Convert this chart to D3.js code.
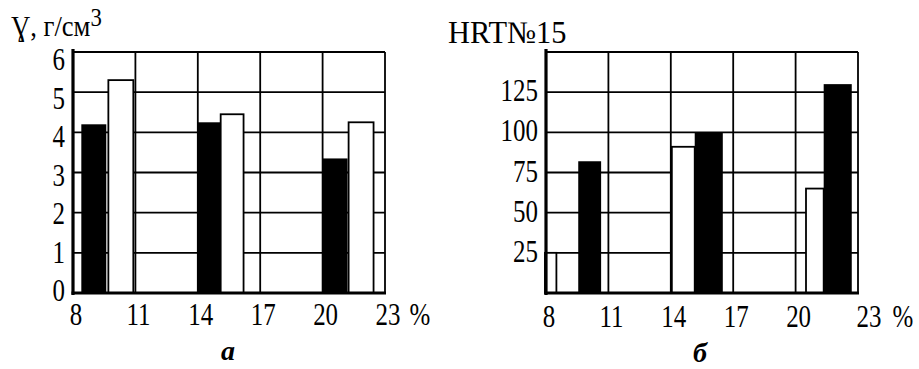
<!DOCTYPE html>
<html>
<head>
<meta charset="utf-8">
<script src="https://cdn.jsdelivr.net/npm/d3@7"></script>
<style>
  html, body { margin: 0; padding: 0; background: #fff; }
  svg { display: block; }
</style>
</head>
<body>
<svg id="chart" width="919" height="369"></svg>
<script>
// Concentration, % (x-axis)
const xTicks = [8, 11, 14, 17, 20, 23];

// Panel a: density, g/cm3
const densityTicks = [0, 1, 2, 3, 4, 5, 6];
const densityDark = [4.2, 4.25, 3.35];
const densityDarkFrom = [8.4, 14.0, 20.0];
const densityDarkTo = [9.6, 15.1, 21.2];
const densityLight = [5.3, 4.45, 4.25];
const densityLightFrom = [9.7, 15.1, 21.25];
const densityLightTo = [10.9, 16.2, 22.45];

// Panel б: hardness HRT№15
const hardTicks = [25, 50, 75, 100, 125];
const hardGrid = [25, 50, 75, 100, 125, 150];
const hardLight = [25, 91, 65];
const hardLightFrom = [7.95, 14.05, 20.5];
const hardLightTo = [8.5, 15.15, 21.35];
const hardDark = [82, 100, 130];
const hardDarkFrom = [9.55, 15.15, 21.35];
const hardDarkTo = [10.65, 16.5, 22.7];

const SERIF = "'Liberation Serif', 'DejaVu Serif', 'Times New Roman', Times, serif";

const svg = d3.select("#chart");

function label(g, x, y, str, anchor, size) {
  return g.append("text")
    .attr("transform", `translate(${x},${y}) scale(0.86,1.1)`)
    .attr("text-anchor", anchor || "middle")
    .attr("font-family", SERIF)
    .attr("font-size", size || 29)
    .attr("fill", "#000")
    .text(str);
}

function panel(opts) {
  const g = svg.append("g");
  const x = d3.scaleLinear().domain([8, 23]).range(opts.xRange);
  const y = d3.scaleLinear().domain(opts.yDomain).range([293, 52]);
  const [x0, x1] = opts.xRange;

  // grid: horizontal
  g.selectAll(".hg").data(opts.hGrid).join("line")
    .attr("x1", x0).attr("x2", x1)
    .attr("y1", d => y(d)).attr("y2", d => y(d))
    .attr("stroke", "#000").attr("stroke-width", 1.8);
  // grid: vertical
  g.selectAll(".vg").data(xTicks.slice(1)).join("line")
    .attr("x1", d => x(d)).attr("x2", d => x(d))
    .attr("y1", y.range()[1]).attr("y2", y.range()[0])
    .attr("stroke", "#000").attr("stroke-width", 1.8);

  // bars
  opts.series.forEach(s => {
    g.selectAll(null).data(s.values).join("rect")
      .attr("x", (d, i) => x(s.from[i]))
      .attr("width", (d, i) => x(s.to[i]) - x(s.from[i]))
      .attr("y", d => y(d))
      .attr("height", d => y(0) - y(d))
      .attr("fill", s.dark ? "#000" : "#fff")
      .attr("stroke", "#000")
      .attr("stroke-width", s.dark ? 0 : 1.8);
  });

  // axes (heavy)
  g.append("line").attr("x1", x0).attr("x2", x0)
    .attr("y1", 49).attr("y2", 295)
    .attr("stroke", "#000").attr("stroke-width", 3.2);
  g.append("line").attr("x1", x0 - 1.5).attr("x2", x1 + 1)
    .attr("y1", y(0)).attr("y2", y(0))
    .attr("stroke", "#000").attr("stroke-width", 3.2);

  // y tick labels
  opts.yLabels.forEach(d => {
    label(g, x0 - 8, opts.yLabelPos(d) + 10, d, "end");
  });

  // x tick labels
  xTicks.forEach((d, i) => {
    const last = i === xTicks.length - 1;
    label(g, x(d) + (last ? opts.lastShift : 0) + 3, opts.xBase, d, "middle");
  });
  label(g, x(23) + opts.pctShift, opts.xBase, "%", "middle");

  // panel letter
  g.append("text")
    .attr("x", opts.letterX).attr("y", opts.letterY)
    .attr("text-anchor", "middle")
    .attr("font-family", SERIF)
    .attr("font-size", 28)
    .attr("font-weight", "bold")
    .attr("font-style", "italic")
    .attr("fill", "#000")
    .text(opts.letter);

  return g;
}

// panel a
const ga = panel({
  xRange: [73, 385],
  yDomain: [0, 6],
  hGrid: densityTicks.slice(1),
  yLabels: densityTicks,
  yLabelPos: d3.scaleLinear().domain([0, 6]).range([291, 60]),
  xBase: 325,
  lastShift: 0,
  pctShift: 35,
  letter: "a",
  letterX: 228, letterY: 360,
  series: [
    { values: densityDark, from: densityDarkFrom, to: densityDarkTo, dark: true },
    { values: densityLight, from: densityLightFrom, to: densityLightTo, dark: false }
  ]
});
const ta = ga.append("text")
  .attr("transform", "translate(11,36) scale(0.95,1.08)")
  .attr("font-family", SERIF)
  .attr("font-size", 28)
  .attr("fill", "#000");
ta.append("tspan").text("Ɣ, г/см");
ta.append("tspan").attr("dy", -9).attr("font-size", 24).text("3");

// panel б
const hy = d3.scaleLinear().domain([0, 150]).range([293, 52]);
const gb = panel({
  xRange: [546, 858],
  yDomain: [0, 150],
  hGrid: hardGrid,
  yLabels: hardTicks,
  yLabelPos: d => hy(d) - 1,
  xBase: 327,
  lastShift: 8,
  pctShift: 45,
  letter: "б",
  letterX: 700, letterY: 362,
  series: [
    { values: hardLight, from: hardLightFrom, to: hardLightTo, dark: false },
    { values: hardDark, from: hardDarkFrom, to: hardDarkTo, dark: true }
  ]
});
gb.append("text")
  .attr("transform", "translate(448,43) scale(1.05,1.08)")
  .attr("font-family", SERIF)
  .attr("font-size", 29)
  .attr("fill", "#000")
  .text("HRT№15");
</script>
</body>
</html>
